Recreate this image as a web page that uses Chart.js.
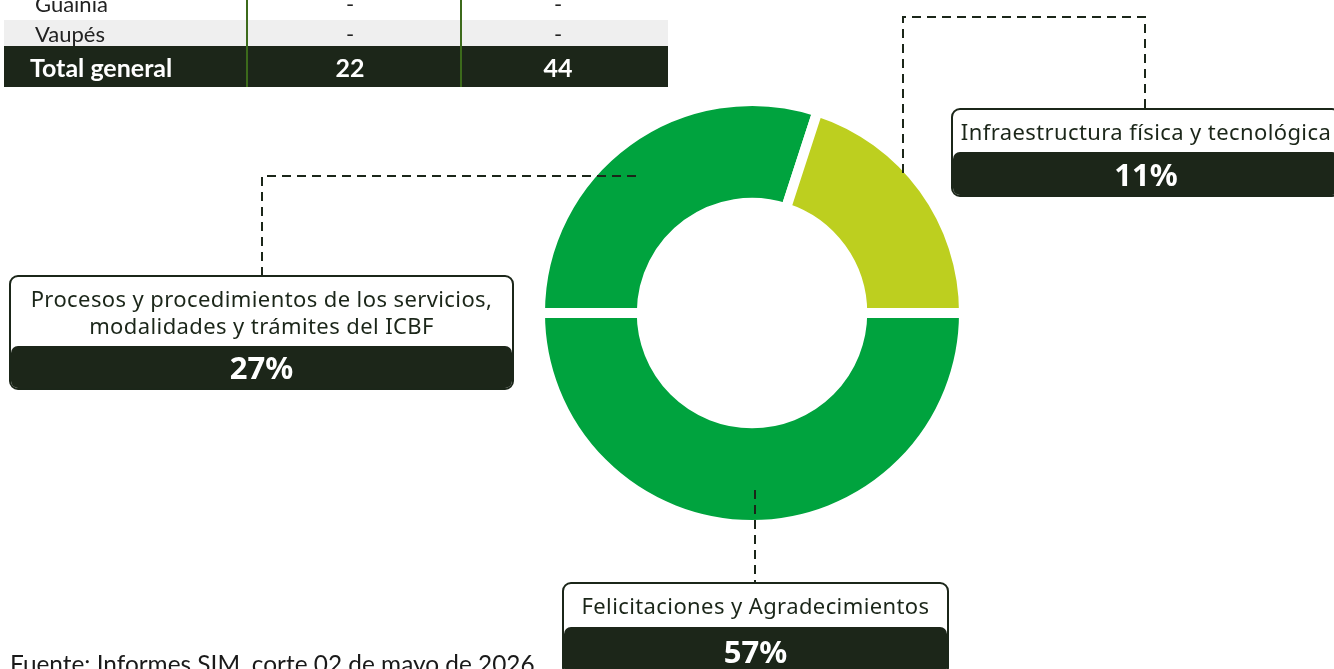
<!DOCTYPE html>
<html lang="es">
<head>
<meta charset="utf-8">
<title>Distribución por tipo</title>
<script src="https://cdn.jsdelivr.net/npm/chart.js@4.4.1/dist/chart.umd.min.js"></script>
<style>
  html, body { margin: 0; padding: 0; background: #fff; }
  body { width: 1334px; height: 669px; overflow: hidden; position: relative; font-family: Lato, "Noto Sans", sans-serif; color: #1b2619; }
  #donut { position: absolute; left: 0; top: 0; }

  /* tabla recortada arriba */
  .tabla { position: absolute; left: 4px; top: 0; width: 664px; height: 87px; }
  .fila { position: absolute; left: 0; width: 664px; }
  .fila span { position: absolute; top: 0; height: 100%; display: flex; align-items: center; }
  .fila .nom { left: 31px; }
  .fila .c1 { left: 242px; width: 208px; justify-content: center; }
  .fila .c2 { left: 456px; width: 196px; justify-content: center; }
  .fila.gris { background: #efefef; font-size: 22px; color: #222; }
  .fila.blanca { font-size: 22px; color: #222; }
  .fila.total { background: #1c2619; color: #fff; font-weight: 700; font-size: 25px; }
  .fila.total .nom { left: 26px; }
  .vline { position: absolute; top: 0; width: 2px; height: 87px; background: #3c6a1b; }

  /* cuadros de etiquetas */
  .callout { position: absolute; box-sizing: border-box; border: 2px solid #1b2619; border-radius: 9px; background: #fff; overflow: hidden; }
  .callout .cap { display: flex; align-items: center; justify-content: center; text-align: center; font-family: "Noto Sans", sans-serif; font-size: 22px; letter-spacing: 0.4px; line-height: 27px; color: #1b2619; white-space: nowrap; }
  .callout .pct { display: flex; align-items: center; justify-content: center; background: #1c2619; color: #fff; font-family: "Noto Sans", sans-serif; font-weight: 700; font-size: 31px; border-radius: 7px 7px 0 0; }

  .fuente { position: absolute; left: 10px; top: 652px; font-size: 24.4px; line-height: 24px; color: #1a1a1a; white-space: nowrap; }
</style>
</head>
<body>
<canvas id="donut" width="1334" height="669"></canvas>

<div class="tabla" id="tabla"></div>
<div id="callouts"></div>
<div class="fuente">Fuente: Informes SIM, corte 02 de mayo de 2026</div>

<script>
// datos del gráfico
const categories = [
  'Felicitaciones y Agradecimientos',
  'Procesos y procedimientos de los servicios,\nmodalidades y trámites del ICBF',
  'Infraestructura física y tecnológica'
];
const percentLabels = ['57%', '27%', '11%'];
// tamaño de cada arco tal como se ve en la figura
const arcShares = [50, 30, 20];
const sliceColors = ['#00a33e', '#00a33e', '#bdcf1f'];

// filas de la tabla (solo la parte visible)
const tableNames = ['Guainía', 'Vaupés', 'Total general'];
const tableCol1 = ['-', '-', '22'];
const tableCol2 = ['-', '-', '44'];

// tabla
const tabla = document.getElementById('tabla');
const rowBoxes = [
  { cls: 'blanca', top: -14, h: 34 },
  { cls: 'gris', top: 20, h: 26 },
  { cls: 'total', top: 46, h: 41 }
];
for (let i = 0; i < tableNames.length; i++) {
  const r = document.createElement('div');
  r.className = 'fila ' + rowBoxes[i].cls;
  r.style.top = rowBoxes[i].top + 'px';
  r.style.height = rowBoxes[i].h + 'px';
  r.innerHTML = `<span class="nom">${tableNames[i]}</span><span class="c1">${tableCol1[i]}</span><span class="c2">${tableCol2[i]}</span>`;
  tabla.appendChild(r);
}
[242, 456].forEach(x => {
  const v = document.createElement('div');
  v.className = 'vline';
  v.style.left = x + 'px';
  tabla.appendChild(v);
});

// cuadros (posición de cada cuadro)
const boxLayout = [
  { left: 562, top: 582, width: 387, capH: 43, pctH: 48 },
  { left: 9, top: 275, width: 505, capH: 69, pctH: 42 },
  { left: 951, top: 108, width: 390, capH: 42, pctH: 43 }
];
const callouts = document.getElementById('callouts');
for (let i = 0; i < categories.length; i++) {
  const b = boxLayout[i];
  const d = document.createElement('div');
  d.className = 'callout';
  d.style.left = b.left + 'px';
  d.style.top = b.top + 'px';
  d.style.width = b.width + 'px';
  d.innerHTML = `<div class="cap" style="height:${b.capH}px">${categories[i].replace('\n', '<br>')}</div>` +
                `<div class="pct" style="height:${b.pctH}px">${percentLabels[i]}</div>`;
  callouts.appendChild(d);
}

// líneas punteadas que unen el anillo con los cuadros
const leaderPaths = [
  [[755, 490], [755, 582]],
  [[636, 176], [262, 176], [262, 275]],
  [[903, 173], [903, 17], [1145, 17], [1145, 108]]
];

const leaderLines = {
  id: 'leaderLines',
  afterDatasetsDraw(chart) {
    const c = chart.ctx;
    c.save();
    c.strokeStyle = '#1b2619';
    c.lineWidth = 2;
    c.setLineDash([9, 6]);
    leaderPaths.forEach(p => {
      c.beginPath();
      c.moveTo(p[0][0], p[0][1]);
      for (let k = 1; k < p.length; k++) c.lineTo(p[k][0], p[k][1]);
      c.stroke();
    });
    c.restore();
  }
};

const ctx = document.getElementById('donut');
new Chart(ctx, {
  type: 'doughnut',
  data: {
    labels: categories,
    datasets: [{
      data: arcShares,
      backgroundColor: sliceColors,
      borderColor: '#ffffff',
      borderWidth: 10,
      borderJoinStyle: 'miter',
      hoverOffset: 0
    }]
  },
  options: {
    responsive: false,
    animation: false,
    devicePixelRatio: 1,
    events: [],
    rotation: 90,
    cutout: '52%',
    layout: { padding: { left: 535, right: 365, top: 95, bottom: 138 } },
    plugins: {
      legend: { display: false },
      tooltip: { enabled: false }
    }
  },
  plugins: [leaderLines]
});
</script>
</body>
</html>
